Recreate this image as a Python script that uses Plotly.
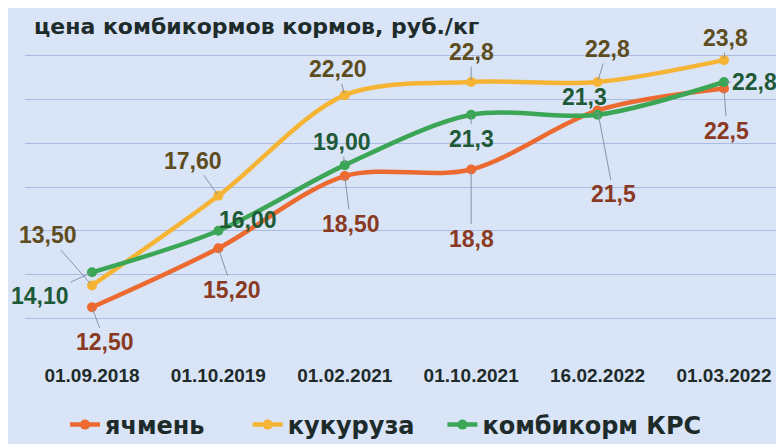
import plotly.graph_objects as go

dates = ["01.09.2018", "01.10.2019", "01.02.2021", "01.10.2021", "16.02.2022", "01.03.2022"]
barley = [12.5, 15.2, 18.5, 18.8, 21.5, 22.5]
barley_labels = ["12,50", "15,20", "18,50", "18,8", "21,5", "22,5"]
corn = [13.5, 17.6, 22.2, 22.8, 22.8, 23.8]
corn_labels = ["13,50", "17,60", "22,20", "22,8", "22,8", "23,8"]
feed = [14.1, 16.0, 19.0, 21.3, 21.3, 22.8]
feed_labels = ["14,10", "16,00", "19,00", "21,3", "21,3", "22,8"]

names = ["ячмень", "кукуруза", "комбикорм КРС"]
name_pad = ["\u00a0\u00a0\u00a0\u00a0\u00a0", "\u00a0\u00a0\u00a0", ""]
line_colors = ["#ec6a30", "#f6b434", "#3ba655"]
label_colors = ["#8a3a22", "#5e4d1e", "#1e5a38"]

# label offsets in pixels (style)
offsets = [
    [(13, 35), (14, 42), (6, 48), (0, 69), (16, 84), (3, 42)],
    [(-44, -50), (-25, -35), (-7, -26), (0, -30), (10, -33), (2, -22)],
    [(-52, 24), (30, -11), (-3, -23), (0, 24), (-13, -18), (31, 0)],
]

FONT = "Liberation Sans, Arial, sans-serif"
WIDE = "DejaVu Sans, sans-serif"
x = list(range(len(dates)))

# the page body has an 8px margin, so the figure is 8px smaller than the window
W, H = 776, 436
L, T, B = 17, 4, 82

fig = go.Figure()
series = [barley, corn, feed]
labels = [barley_labels, corn_labels, feed_labels]
for s, nm, pad, lc in zip(series, names, name_pad, line_colors):
    fig.add_trace(go.Scatter(
        x=x, y=s, name="<b>" + nm + "</b>" + pad, mode="lines+markers",
        line=dict(color=lc, width=4.5, shape="spline", smoothing=0.9),
        marker=dict(color=lc, size=10),
    ))

annotations = []
for si, (s, lab) in enumerate(zip(series, labels)):
    for i, (v, t) in enumerate(zip(s, lab)):
        ax, ay = offsets[si][i]
        annotations.append(dict(
            x=x[i], y=v, xref="x", yref="y", text="<b>" + t + "</b>",
            showarrow=True, arrowhead=0, arrowwidth=1, arrowcolor="#8894a8",
            ax=ax, ay=ay, standoff=2,
            font=dict(family=FONT, size=23, color=label_colors[si]),
        ))

plot_h = H - T - B
plot_w = W - L
annotations.append(dict(
    text="<b>цена комбикормов кормов, руб./кг</b>", xref="paper", yref="paper",
    x=(27 - L) / plot_w, y=1 - (19 - T) / plot_h, xanchor="left", yanchor="middle",
    xshift=-3, showarrow=False, font=dict(family=WIDE, size=22, color="#1e2b2b"),
))

fig.update_layout(
    width=W, height=H,
    margin=dict(l=L, r=0, t=T, b=B),
    paper_bgcolor="#d9e4f6", plot_bgcolor="#d9e4f6",
    showlegend=True,
    legend=dict(orientation="h", x=378 / W, xref="container", xanchor="center",
                y=1 - 417 / H, yref="container", yanchor="middle",
                font=dict(family=WIDE, size=24, color="#1e2b2b"),
                bgcolor="rgba(0,0,0,0)"),
    annotations=annotations,
    xaxis=dict(range=[-0.53, 5.475], tickvals=x, automargin=False,
               ticktext=["<b>" + d + "</b>" for d in dates],
               showgrid=False, zeroline=False, showline=False, ticks="",
               tickfont=dict(family=FONT, size=19, color="#1e2b2b")),
    yaxis=dict(range=[10, 26], dtick=2, showticklabels=False, gridcolor="#a8bbe0",
               gridwidth=1, zeroline=False, showline=False, ticks="", automargin=False),
)
fig.write_html("out.html")
